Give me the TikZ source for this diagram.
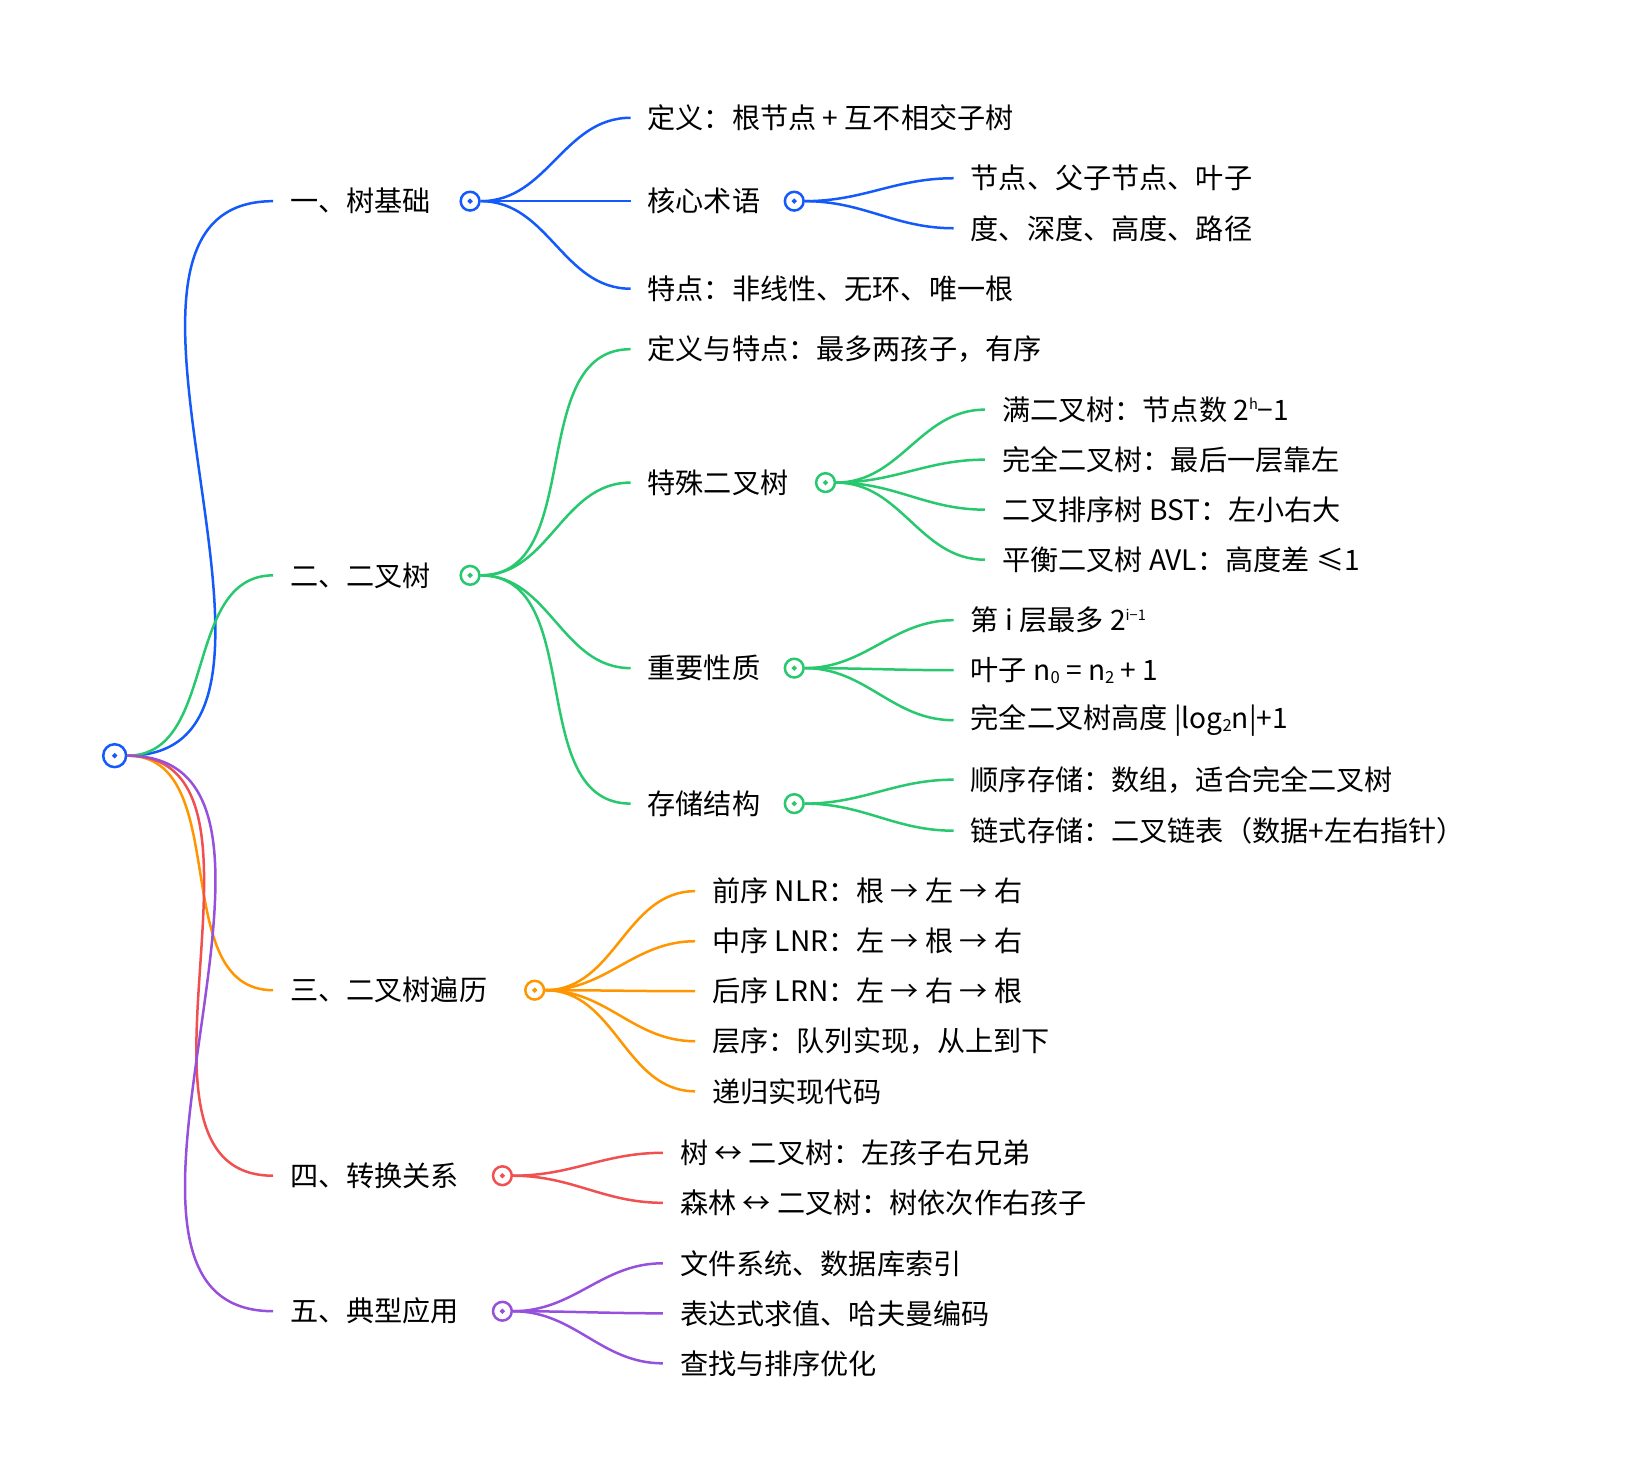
\documentclass[tikz,border=0pt]{standalone}
\usepackage{fontspec}
\setmainfont{Noto Sans CJK SC}
\begin{document}
\begin{tikzpicture}[x=0.5pt,y=-0.5pt,
  lbl/.style={anchor=west,inner xsep=8pt,inner ysep=0pt,font=\fontsize{13.5}{16}\selectfont},
  dot/.style={circle,draw=#1,fill=white,line width=1.2pt,minimum size=9pt,inner sep=0pt},
  br/.style={draw=#1,line width=1.2pt},
  cb/.style={br=cB},cg/.style={br=cG},co/.style={br=cO},cr/.style={br=cR},cp/.style={br=cP}]
\definecolor{cB}{RGB}{20,90,250}
\definecolor{cG}{RGB}{40,200,110}
\definecolor{cO}{RGB}{255,150,0}
\definecolor{cR}{RGB}{240,80,80}
\definecolor{cP}{RGB}{150,80,220}
\newcommand{\sps}[1]{\raisebox{0.7ex}{\fontsize{7}{8}\selectfont #1}}
\newcommand{\sbs}[1]{\raisebox{-0.2ex}{\fontsize{8}{9}\selectfont #1}}
\useasboundingbox (0,0) rectangle (1560,1412);
% root
\node[dot=cB,minimum size=11pt] (root) at (110,725) {};
% level 1
\node[lbl] (a) at (262,193) {一、树基础};
\node[dot=cB] (ac) at (451,193) {};
\node[lbl] (b) at (262,552) {二、二叉树};
\node[dot=cG] (bc) at (451,552) {};
\node[lbl] (c) at (262,950) {三、二叉树遍历};
\node[dot=cO] (cc) at (513,950) {};
\node[lbl] (d) at (262,1128) {四、转换关系};
\node[dot=cR] (dc) at (482,1128) {};
\node[lbl] (e) at (262,1258) {五、典型应用};
\node[dot=cP] (ec) at (482,1258) {};
\begin{scope}[on background layer/.try]
\end{scope}
\draw[cb] (root.east) to[out=0,in=180] (a.west);
\draw[cg] (root.east) to[out=0,in=180] (b.west);
\draw[co] (root.east) to[out=0,in=180] (c.west);
\draw[cr] (root.east) to[out=0,in=180] (d.west);
\draw[cp] (root.east) to[out=0,in=180] (e.west);
% blue
\node[lbl] (a1) at (605,113) {定义：根节点 + 互不相交子树};
\node[lbl] (a2) at (605,193) {核心术语};
\node[dot=cB] (a2c) at (762,193) {};
\node[lbl] (a3) at (605,277) {特点：非线性、无环、唯一根};
\node[lbl] (a21) at (915,171) {节点、父子节点、叶子};
\node[lbl] (a22) at (915,219) {度、深度、高度、路径};
\foreach \t in {a1,a2,a3} \draw[cb] (ac.east) to[out=0,in=180] (\t.west);
\foreach \t in {a21,a22} \draw[cb] (a2c.east) to[out=0,in=180] (\t.west);
% green
\node[lbl] (b1) at (605,335) {定义与特点：最多两孩子，有序};
\node[lbl] (b2) at (605,463) {特殊二叉树};
\node[dot=cG] (b2c) at (792,463) {};
\node[lbl] (b3) at (605,641) {重要性质};
\node[dot=cG] (b3c) at (762,641) {};
\node[lbl] (b4) at (605,771) {存储结构};
\node[dot=cG] (b4c) at (762,771) {};
\foreach \t in {b1,b2,b3,b4} \draw[cg] (bc.east) to[out=0,in=180] (\t.west);
\node[lbl] (b21) at (945,393) {满二叉树：节点数 2\sps{h}−1};
\node[lbl] (b22) at (945,441) {完全二叉树：最后一层靠左};
\node[lbl] (b23) at (945,489) {二叉排序树 BST：左小右大};
\node[lbl] (b24) at (945,537) {平衡二叉树 AVL：高度差 ≤1};
\foreach \t in {b21,b22,b23,b24} \draw[cg] (b2c.east) to[out=0,in=180] (\t.west);
\node[lbl] (b31) at (915,595) {第 i 层最多 2\sps{i−1}};
\node[lbl] (b32) at (915,643) {叶子 n\sbs{0} = n\sbs{2} + 1};
\node[lbl] (b33) at (915,691) {完全二叉树高度 |log\sbs{2}n|+1};
\foreach \t in {b31,b32,b33} \draw[cg] (b3c.east) to[out=0,in=180] (\t.west);
\node[lbl] (b41) at (915,748) {顺序存储：数组，适合完全二叉树};
\node[lbl] (b42) at (915,797) {链式存储：二叉链表（数据+左右指针）};
\foreach \t in {b41,b42} \draw[cg] (b4c.east) to[out=0,in=180] (\t.west);
% orange
\node[lbl] (c1) at (667,855) {前序 NLR：根 → 左 → 右};
\node[lbl] (c2) at (667,903) {中序 LNR：左 → 根 → 右};
\node[lbl] (c3) at (667,951) {后序 LRN：左 → 右 → 根};
\node[lbl] (c4) at (667,999) {层序：队列实现，从上到下};
\node[lbl] (c5) at (667,1047) {递归实现代码};
\foreach \t in {c1,c2,c3,c4,c5} \draw[co] (cc.east) to[out=0,in=180] (\t.west);
% red
\node[lbl] (d1) at (636,1106) {树 ↔ 二叉树：左孩子右兄弟};
\node[lbl] (d2) at (636,1154) {森林 ↔ 二叉树：树依次作右孩子};
\foreach \t in {d1,d2} \draw[cr] (dc.east) to[out=0,in=180] (\t.west);
% purple
\node[lbl] (e1) at (636,1212) {文件系统、数据库索引};
\node[lbl] (e2) at (636,1260) {表达式求值、哈夫曼编码};
\node[lbl] (e3) at (636,1308) {查找与排序优化};
\foreach \t in {e1,e2,e3} \draw[cp] (ec.east) to[out=0,in=180] (\t.west);
% redraw dots on top
\foreach \n/\c in {root/cB,ac/cB,bc/cG,cc/cO,dc/cR,ec/cP,a2c/cB,b2c/cG,b3c/cG,b4c/cG}
  \draw[\c,line width=1.2pt,fill=white] (\n) circle [radius=\pgfkeysvalueof{/pgf/minimum width}/2+0pt];
\end{tikzpicture}
\end{document}
